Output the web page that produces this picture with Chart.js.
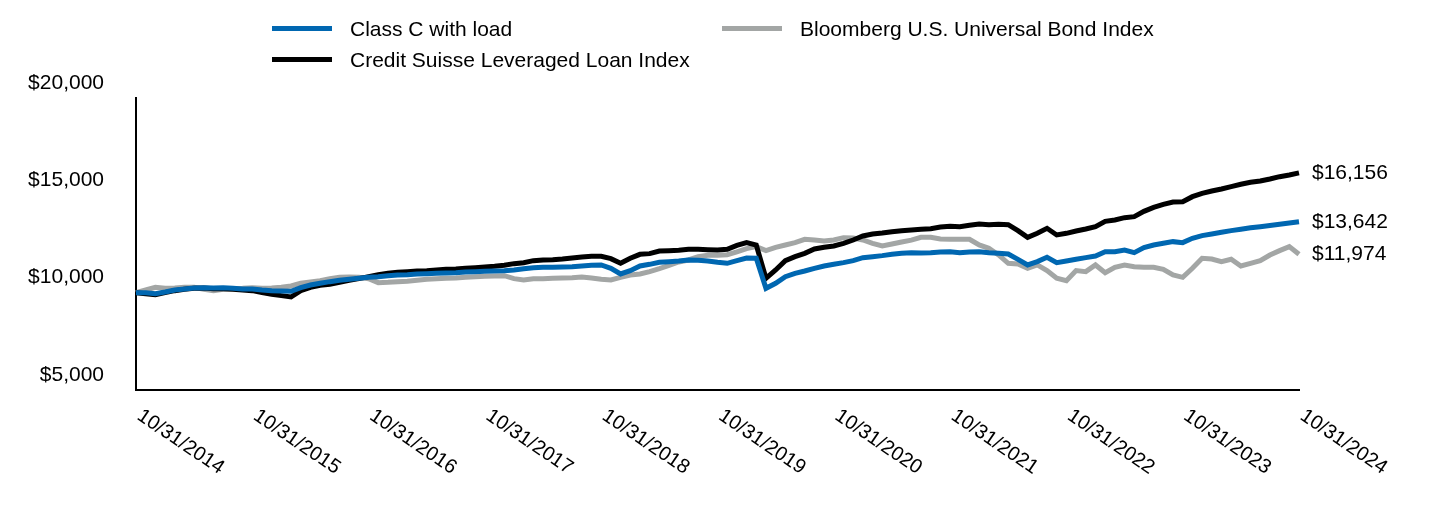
<!DOCTYPE html>
<html>
<head>
<meta charset="utf-8">
<script src="https://cdn.jsdelivr.net/npm/chart.js@4.4.1/dist/chart.umd.min.js"></script>
<style>
  body { margin: 0; background: #fff; }
  #wrap { position: relative; width: 1440px; height: 516px; font-family: Arial, "Liberation Sans", sans-serif; }
  #chart { position: absolute; left: 0; top: 0; }
  .leg-text { position: absolute; font-size: 21px; line-height: 24px; color: #000; white-space: nowrap; }
  .leg-line { position: absolute; width: 60px; height: 5px; }
</style>
</head>
<body>
<div id="wrap">
  <canvas id="chart" width="1440" height="516"></canvas>
  <div id="legend"></div>
</div>
<script>
// Growth of $10,000, month ends 10/31/2014 .. 10/31/2024
const yearLabels = ['10/31/2014', '10/31/2015', '10/31/2016', '10/31/2017', '10/31/2018', '10/31/2019',
                    '10/31/2020', '10/31/2021', '10/31/2022', '10/31/2023', '10/31/2024'];

const seriesNames = ['Class C with load', 'Credit Suisse Leveraged Loan Index', 'Bloomberg U.S. Universal Bond Index'];
const seriesColors = ['#0067b1', '#000000', '#a3a6a5'];

const classC = [
  10000, 9990, 9950, 10035, 10138, 10190, 10240, 10257, 10240, 10257,
  10223, 10190, 10190, 10138, 10103, 10086, 10070, 10257, 10394, 10480,
  10566, 10634, 10685, 10737, 10788, 10822, 10874, 10908, 10925, 10959,
  10976, 10993, 11010, 11028, 11062, 11079, 11096, 11113, 11130, 11165,
  11230, 11285, 11302, 11302, 11320, 11337, 11371, 11405, 11422, 11251,
  10960, 11131, 11371, 11456, 11559, 11593, 11628, 11679, 11662, 11628,
  11559, 11508, 11645, 11782, 11765, 10224, 10481, 10823, 10994, 11114,
  11251, 11371, 11456, 11542, 11645, 11799, 11850, 11902, 11970, 12021,
  12056, 12039, 12056, 12090, 12107, 12056, 12090, 12107, 12056, 12022,
  11988, 11714, 11423, 11594, 11816, 11543, 11628, 11714, 11799, 11885,
  12107, 12107, 12193, 12056, 12313, 12450, 12535, 12621, 12570, 12792,
  12929, 13015, 13100, 13186, 13260, 13330, 13390, 13450, 13510, 13575,
  13642
];

const creditSuisse = [
  10000, 9950, 9898, 10001, 10103, 10172, 10223, 10240, 10206, 10206,
  10172, 10138, 10103, 10001, 9915, 9847, 9778, 10103, 10275, 10377,
  10428, 10531, 10634, 10720, 10822, 10925, 10993, 11045, 11079, 11113,
  11130, 11165, 11199, 11216, 11250, 11284, 11319, 11353, 11404, 11490,
  11541, 11645, 11679, 11696, 11730, 11782, 11833, 11867, 11867, 11747,
  11508, 11765, 11970, 12005, 12141, 12158, 12176, 12227, 12227, 12210,
  12193, 12227, 12432, 12569, 12450, 10737, 11166, 11645, 11850, 12021,
  12244, 12330, 12398, 12535, 12706, 12912, 13014, 13066, 13134, 13186,
  13220, 13255, 13289, 13374, 13408, 13391, 13460, 13528, 13494, 13511,
  13494, 13186, 12844, 13049, 13306, 12963, 13049, 13169, 13272, 13391,
  13665, 13734, 13854, 13905, 14179, 14384, 14538, 14658, 14675, 14932,
  15103, 15223, 15326, 15446, 15566, 15668, 15737, 15840, 15959, 16045,
  16156
];

const bloomberg = [
  10000, 10138, 10275, 10223, 10240, 10275, 10275, 10172, 10103, 10172,
  10206, 10223, 10257, 10223, 10240, 10275, 10343, 10480, 10549, 10617,
  10720, 10788, 10805, 10788, 10720, 10514, 10531, 10566, 10583, 10634,
  10685, 10720, 10737, 10754, 10788, 10822, 10839, 10857, 10874, 10720,
  10651, 10720, 10720, 10737, 10754, 10771, 10806, 10754, 10686, 10652,
  10789, 10909, 10960, 11080, 11234, 11405, 11576, 11679, 11850, 11919,
  11919, 11953, 12090, 12261, 12364, 12158, 12330, 12450, 12569, 12740,
  12706, 12655, 12706, 12826, 12809, 12706, 12535, 12398, 12501, 12603,
  12700, 12844, 12844, 12758, 12741, 12741, 12741, 12450, 12279, 11936,
  11508, 11474, 11251, 11423, 11132, 10738, 10618, 11132, 11080, 11423,
  11029, 11303, 11423, 11337, 11303, 11303, 11200, 10909, 10789, 11251,
  11765, 11731, 11594, 11714, 11371, 11508, 11645, 11936, 12159, 12364,
  11974
];

const yTicks = [5000, 10000, 15000, 20000];

// month labels for the category axis
const months = [];
for (let i = 0; i < classC.length; i++) {
    const m = (9 + i) % 12 + 1;
    const y = 2014 + Math.floor((9 + i) / 12);
    months.push(m + '/' + y);
}

function money(v) {
    return '$' + v.toLocaleString('en-US');
}

// legend (html), two columns
const legendSlots = [
    {left: 272, top: 17},
    {left: 272, top: 48},
    {left: 722, top: 17}
];
const legend = document.getElementById('legend');
seriesNames.forEach((name, i) => {
    const slot = legendSlots[i];
    const line = document.createElement('div');
    line.className = 'leg-line';
    line.style.left = slot.left + 'px';
    line.style.top = (slot.top + 9) + 'px';
    line.style.background = seriesColors[i];
    legend.appendChild(line);
    const txt = document.createElement('div');
    txt.className = 'leg-text';
    txt.style.left = (slot.left + 78) + 'px';
    txt.style.top = slot.top + 'px';
    txt.innerText = name;
    legend.appendChild(txt);
});

// rotated year labels under the axis + end values at the right
const labelPlugin = {
    id: 'labelPlugin',
    afterDraw(chart) {
        const ctx = chart.ctx;
        const xScale = chart.scales.x;
        ctx.save();
        ctx.fillStyle = '#000';
        ctx.textAlign = 'left';
        ctx.textBaseline = 'middle';
        ctx.font = '20px Arial, "Liberation Sans", sans-serif';
        yearLabels.forEach((lab, k) => {
            const px = xScale.getPixelForValue(k * 12);
            ctx.save();
            ctx.translate(px + 3, chart.chartArea.bottom + 24);
            ctx.rotate(34 * Math.PI / 180);
            ctx.fillText(lab, 0, 0);
            ctx.restore();
        });

        ctx.font = '21px Arial, "Liberation Sans", sans-serif';
        chart.data.datasets.forEach((ds, i) => {
            const meta = chart.getDatasetMeta(i);
            const pt = meta.data[meta.data.length - 1];
            ctx.fillText(money(ds.data[ds.data.length - 1]), pt.x + 13, pt.y);
        });
        ctx.restore();
    }
};

const allSeries = [classC, creditSuisse, bloomberg];

new Chart(document.getElementById('chart').getContext('2d'), {
    type: 'line',
    data: {
        labels: months,
        datasets: allSeries.map((d, i) => ({
            label: seriesNames[i],
            data: d,
            borderColor: seriesColors[i],
            backgroundColor: seriesColors[i],
            borderWidth: 5,
            pointRadius: 0,
            tension: 0,
            borderJoinStyle: 'miter',
            fill: false
        }))
    },
    options: {
        responsive: false,
        animation: false,
        layout: {padding: {left: 0, top: 98, right: 141, bottom: 0}},
        plugins: {
            legend: {display: false},
            tooltip: {enabled: false}
        },
        scales: {
            x: {
                type: 'category',
                offset: false,
                grid: {display: false, drawTicks: false},
                border: {display: true, color: '#000', width: 2},
                ticks: {display: false},
                afterFit: function (scale) { scale.height = 126; }
            },
            y: {
                min: 5000,
                max: 20000,
                afterBuildTicks: function (scale) {
                    scale.ticks = yTicks.map(v => ({value: v}));
                },
                grid: {display: false, drawTicks: false},
                border: {display: true, color: '#000', width: 2},
                ticks: {
                    padding: 32,
                    labelOffset: -15,
                    color: '#000',
                    font: {family: 'Arial, "Liberation Sans", sans-serif', size: 21},
                    callback: v => money(v)
                },
                afterFit: function (scale) { scale.width = 136; }
            }
        }
    },
    plugins: [labelPlugin]
});
</script>
</body>
</html>
